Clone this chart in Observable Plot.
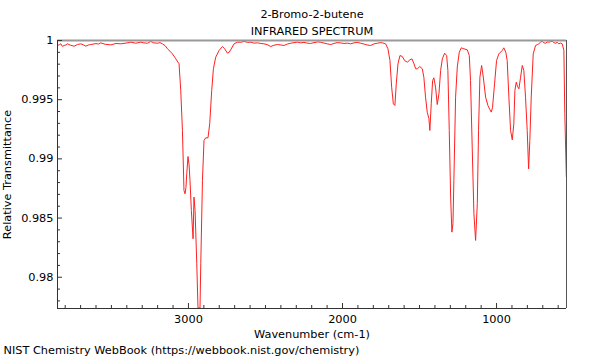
<!DOCTYPE html>
<html>
<head>
<meta charset="utf-8">
<script src="https://cdn.jsdelivr.net/npm/d3@7"></script>
<script src="https://cdn.jsdelivr.net/npm/@observablehq/plot@0.6"></script>
<style>
  html, body { margin: 0; padding: 0; background: #fff; }
</style>
</head>
<body>
<div id="chart"></div>
<script>
const title = "2-Bromo-2-butene";
const subtitle = "INFRARED SPECTRUM";
const caption = "NIST Chemistry WebBook (https://webbook.nist.gov/chemistry)";
const xLabel = "Wavenumber (cm-1)";
const yLabel = "Relative Transmittance";

const xDomain = [3850, 546];
const yDomain = [0.97736, 1.0];

const xMajorTicks = [3000, 2000, 1000];
const xMinorTicks = [3800, 3700, 3600, 3500, 3400, 3300, 3200, 3100, 2900, 2800, 2700, 2600, 2500, 2400, 2300, 2200, 2100, 1900, 1800, 1700, 1600, 1500, 1400, 1300, 1200, 1100, 900, 800, 700, 600];
const yMajorTicks = [0.98, 0.985, 0.99, 0.995, 1];
const yMinorTicks = [0.978, 0.979, 0.981, 0.982, 0.983, 0.984, 0.986, 0.987, 0.988, 0.989, 0.991, 0.992, 0.993, 0.994, 0.996, 0.997, 0.998, 0.999];

const wavenumber = [
  3850, 3838, 3828, 3818, 3807, 3795, 3785, 3765, 3742, 3720, 3699, 3680, 3666, 3650, 3634, 3600, 3585, 3569, 3540, 3504,
  3470, 3439, 3405, 3374, 3342, 3309, 3290, 3266, 3245, 3225, 3201, 3185, 3169, 3150, 3136, 3120, 3104, 3082, 3061, 3050,
  3039, 3029, 3022, 3016, 3011, 3003, 2996, 2990, 2981, 2970, 2964, 2957, 2946, 2938, 2925, 2920, 2909, 2899, 2888, 2873,
  2862, 2849, 2838, 2823, 2801, 2779, 2765, 2747, 2736, 2726, 2704, 2682, 2660, 2639, 2615, 2596, 2575, 2552, 2530, 2510,
  2488, 2466, 2445, 2423, 2400, 2380, 2358, 2336, 2315, 2293, 2270, 2250, 2230, 2207, 2185, 2160, 2142, 2120, 2100, 2077,
  2055, 2035, 2012, 1990, 1970, 1947, 1925, 1905, 1882, 1860, 1840, 1817, 1795, 1774, 1755, 1741, 1720, 1705, 1692, 1681,
  1670, 1660, 1651, 1640, 1627, 1612, 1597, 1579, 1562, 1549, 1536, 1525, 1514, 1498, 1482, 1472, 1461, 1450, 1439, 1433,
  1424, 1415, 1407, 1396, 1385, 1374, 1363, 1352, 1337, 1324, 1316, 1307, 1298, 1290, 1283, 1277, 1266, 1255, 1242, 1229,
  1212, 1190, 1177, 1169, 1158, 1147, 1136, 1125, 1117, 1108, 1097, 1086, 1071, 1056, 1043, 1034, 1026, 1013, 1000, 985,
  963, 953, 940, 931, 920, 909, 898, 888, 881, 872, 864, 855, 844, 833, 823, 812, 801, 792, 784, 775,
  762, 747, 736, 726, 715, 704, 693, 682, 671, 661, 650, 639, 628, 617, 606, 596, 585, 574, 563, 557,
  547
];
const transmittance = [
  0.99958, 0.99965, 0.99972, 0.99950, 0.99958, 0.99962, 0.99972, 0.99960, 0.99952, 0.99966, 0.99972, 0.99962, 0.99952, 0.99962, 0.99966, 0.99974, 0.99970, 0.99980, 0.99968, 0.99963,
  0.99975, 0.99972, 0.99978, 0.99986, 0.99977, 0.99986, 0.99980, 0.99977, 0.99992, 0.99980, 0.99977, 0.99982, 0.99972, 0.99955, 0.99930, 0.99910, 0.99887, 0.99845, 0.99803, 0.99578,
  0.99240, 0.98733, 0.98705, 0.98760, 0.98874, 0.99020, 0.98950, 0.98818, 0.98564, 0.98325, 0.98677, 0.98564, 0.98114, 0.97740, 0.97740, 0.98114, 0.98818, 0.99155, 0.99178, 0.99178,
  0.99296, 0.99578, 0.99761, 0.99859, 0.99916, 0.99949, 0.99930, 0.99893, 0.99900, 0.99921, 0.99972, 0.99986, 0.99985, 0.99992, 0.99984, 0.99986, 0.99978, 0.99980, 0.99975, 0.99972,
  0.99965, 0.99949, 0.99960, 0.99966, 0.99962, 0.99958, 0.99970, 0.99977, 0.99982, 0.99986, 0.99980, 0.99984, 0.99978, 0.99975, 0.99982, 0.99988, 0.99985, 0.99978, 0.99972, 0.99966,
  0.99975, 0.99982, 0.99980, 0.99975, 0.99978, 0.99972, 0.99980, 0.99985, 0.99977, 0.99970, 0.99962, 0.99958, 0.99972, 0.99977, 0.99982, 0.99980, 0.99972, 0.99930, 0.99831, 0.99606,
  0.99465, 0.99451, 0.99634, 0.99803, 0.99873, 0.99865, 0.99831, 0.99817, 0.99837, 0.99845, 0.99803, 0.99761, 0.99761, 0.99780, 0.99761, 0.99690, 0.99521, 0.99395, 0.99339, 0.99240,
  0.99465, 0.99662, 0.99685, 0.99606, 0.99459, 0.99550, 0.99747, 0.99845, 0.99893, 0.99873, 0.99747, 0.99240, 0.98677, 0.98381, 0.98452, 0.98818, 0.99521, 0.99775, 0.99901, 0.99938,
  0.99930, 0.99921, 0.99873, 0.99662, 0.99099, 0.98536, 0.98311, 0.98621, 0.99240, 0.99690, 0.99789, 0.99690, 0.99521, 0.99451, 0.99415, 0.99395, 0.99437, 0.99634, 0.99831, 0.99887,
  0.99916, 0.99938, 0.99901, 0.99831, 0.99521, 0.99240, 0.99161, 0.99296, 0.99578, 0.99648, 0.99612, 0.99592, 0.99690, 0.99789, 0.99747, 0.99521, 0.99240, 0.98916, 0.99155, 0.99521,
  0.99887, 0.99958, 0.99965, 0.99972, 0.99985, 0.99994, 0.99980, 0.99977, 0.99988, 0.99986, 0.99990, 0.99994, 0.99982, 0.99977, 0.99985, 0.99972, 0.99978, 0.99972, 0.99916, 0.99381,
  0.98851
];

const spectrum = wavenumber.map((w, i) => ({wavenumber: w, transmittance: transmittance[i]}));

const chart = Plot.plot({
  width: 600,
  height: 360,
  marginLeft: 57,
  marginRight: 34,
  marginTop: 40,
  marginBottom: 52,
  style: {fontFamily: "'DejaVu Sans', sans-serif", fontSize: "11.3px", color: "#000", background: "#fff"},
  x: {domain: xDomain},
  y: {domain: yDomain},
  marks: [
    Plot.line(spectrum, {x: "wavenumber", y: "transmittance", stroke: "#ff2020", strokeWidth: 1, clip: true}),
    Plot.ruleY([yDomain[1]], {stroke: "#999", strokeWidth: 2}),
    Plot.ruleX([xDomain[1]], {stroke: "#555", strokeWidth: 1}),
    Plot.ruleY([yDomain[0]], {stroke: "#333", strokeWidth: 1}),
    Plot.ruleX([xDomain[0]], {stroke: "#333", strokeWidth: 1}),
    Plot.axisX({ticks: xMajorTicks, tickSize: 0, tickPadding: 6, tickFormat: d => String(d),
      label: xLabel, labelAnchor: "center", labelOffset: 29, labelArrow: "none"}),
    Plot.axisX(xMajorTicks, {tickSize: 5, dy: -5, stroke: "#333", fill: "none", label: null}),
    Plot.axisX(xMinorTicks, {tickSize: 3, dy: -3, stroke: "#333", fill: "none", label: null}),
    Plot.axisY({ticks: yMajorTicks, tickSize: 0, tickPadding: 4, tickFormat: d => String(d),
      label: yLabel, labelAnchor: "center", labelOffset: 55, labelArrow: "none"}),
    Plot.axisY(yMajorTicks, {tickSize: 5, dx: 5, stroke: "#333", fill: "none", label: null}),
    Plot.axisY(yMinorTicks, {tickSize: 3, dx: 3, stroke: "#333", fill: "none", label: null}),
    Plot.text([title], {frameAnchor: "top", dy: -31, fill: "#000"}),
    Plot.text([subtitle], {frameAnchor: "top", dy: -14, fill: "#000"}),
    Plot.text([caption], {frameAnchor: "bottom-left", dx: -54, dy: 45, textAnchor: "start", fill: "#000"})
  ]
});
document.getElementById("chart").appendChild(chart);
</script>
</body>
</html>
